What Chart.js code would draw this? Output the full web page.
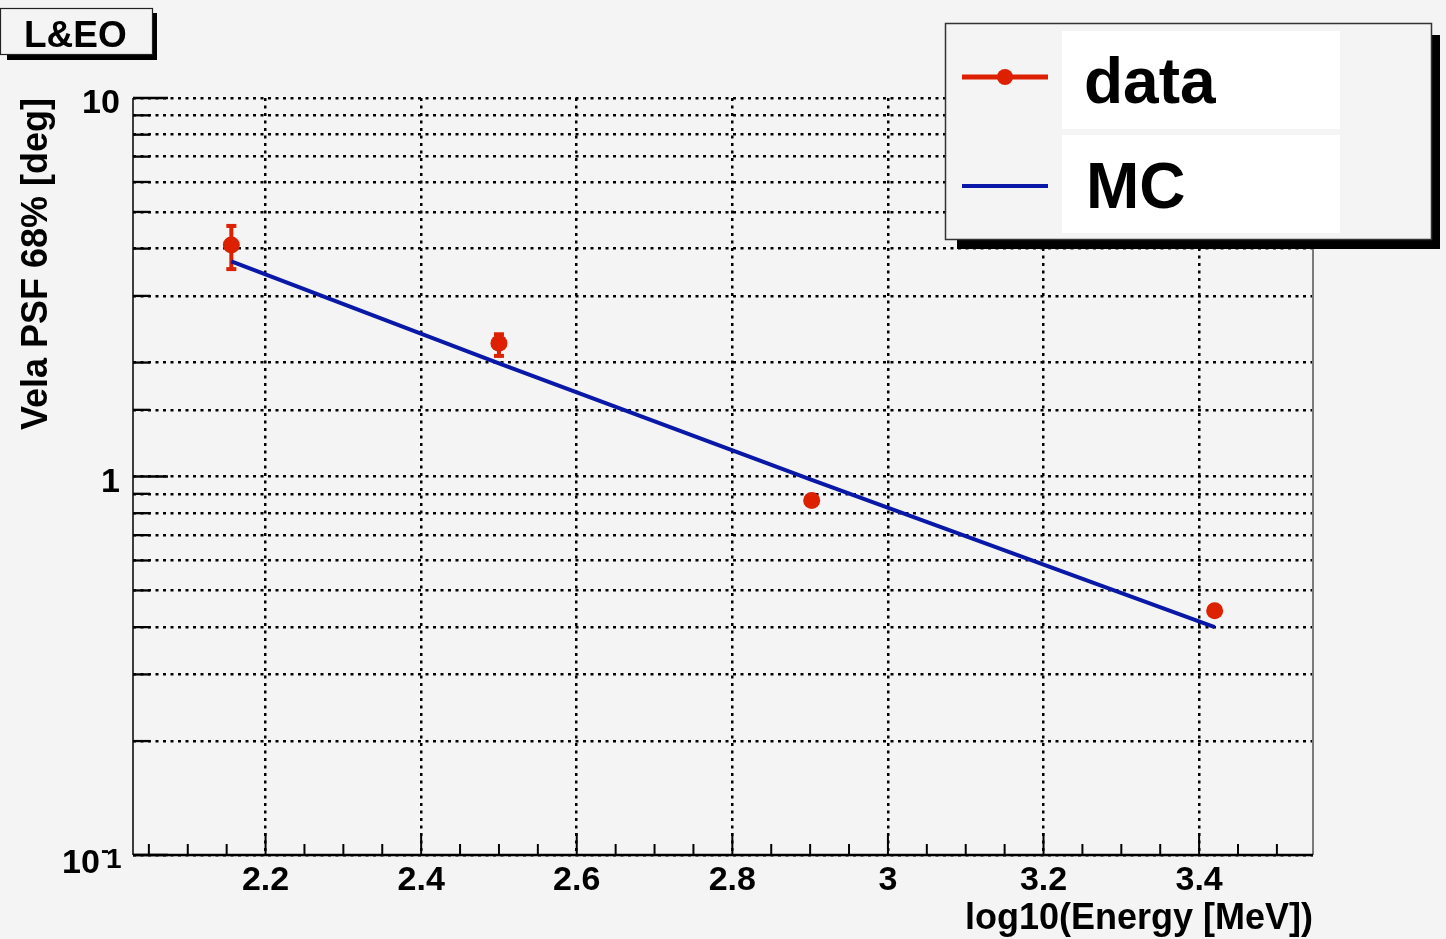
<!DOCTYPE html>
<html>
<head>
<meta charset="utf-8">
<title>Vela PSF 68%</title>
<script src="https://cdn.jsdelivr.net/npm/chart.js@4.4.1/dist/chart.umd.min.js"></script>
<style>
  html, body { margin: 0; padding: 0; background: #f4f4f4; }
  #chart { display: block; }
</style>
</head>
<body>
<canvas id="chart" width="1446" height="939"></canvas>
<script>
// =====================
// DATA
// =====================
const energies = [2.156, 2.5, 2.902, 3.42];      // log10(Energy [MeV])
const psfData = [4.09, 2.25, 0.864, 0.442];       // data, 68% containment [deg]
const psfErrLow = [3.51, 2.07, 0.85, 0.435];
const psfErrHigh = [4.62, 2.39, 0.875, 0.45];
const psfMC = [3.70, 1.99, 0.98, 0.40];           // MC prediction

const xTickValues = [2.2, 2.4, 2.6, 2.8, 3.0, 3.2, 3.4];
const xTickLabels = ["2.2", "2.4", "2.6", "2.8", "3", "3.2", "3.4"];
const yTickValues = [0.1, 1, 10];
const yTickBase = ["10", "1", "10"];
const yTickExp = ["1", "", ""];   // negative exponents, minus drawn raised

const legendLabels = ["data", "MC"];

// =====================
// STYLE
// =====================
const BG = "#f4f4f4";
const RED = "#dc2000";
const BLUE = "#0a18a8";
const FONT = '"Liberation Sans", Arial, Helvetica, sans-serif';

// =====================
// ROOT-like frame, ticks, labels, legend
// =====================
const rootFrame = {
  id: "rootFrame",
  beforeDatasetsDraw(chart) {
    // error bars on data points
    const ctx = chart.ctx;
    const xs = chart.scales.x, ys = chart.scales.y;
    ctx.save();
    ctx.strokeStyle = RED;
    ctx.fillStyle = RED;
    ctx.lineWidth = 4;
    energies.forEach((e, i) => {
      const px = xs.getPixelForValue(e);
      const yl = ys.getPixelForValue(psfErrLow[i]);
      const yh = ys.getPixelForValue(psfErrHigh[i]);
      ctx.beginPath();
      ctx.moveTo(px, yl);
      ctx.lineTo(px, yh);
      ctx.stroke();
      ctx.fillRect(px - 5, yh - 1, 10, 4);
      ctx.fillRect(px - 5, yl - 3, 10, 4);
    });
    ctx.restore();
  },
  afterDraw(chart) {
    const ctx = chart.ctx;
    const xs = chart.scales.x, ys = chart.scales.y;
    const { left, right, top, bottom } = chart.chartArea;
    ctx.save();

    // right frame edge
    ctx.strokeStyle = "#7a7a7a";
    ctx.lineWidth = 2;
    ctx.beginPath();
    ctx.moveTo(right, top);
    ctx.lineTo(right, bottom);
    ctx.stroke();

    // axes
    ctx.strokeStyle = "#000";
    ctx.lineWidth = 1.5;
    ctx.beginPath();
    ctx.moveTo(left, top);
    ctx.lineTo(left, bottom);
    ctx.stroke();
    ctx.lineWidth = 2.5;
    ctx.beginPath();
    ctx.moveTo(left, bottom);
    ctx.lineTo(right, bottom);
    ctx.stroke();

    // y ticks (inside)
    ctx.lineWidth = 2.3;
    ys.ticks.forEach(t => {
      const p = ys.getPixelForValue(t.value);
      const lg = Math.log10(t.value);
      const major = Math.abs(lg - Math.round(lg)) < 1e-6;
      ctx.beginPath();
      ctx.moveTo(left, p);
      ctx.lineTo(left + (major ? 35 : 17), p);
      ctx.stroke();
    });

    // x ticks (inside), minor every 0.05
    ctx.lineWidth = 2;
    for (let k = 41; k <= 70; k++) {
      const v = k * 0.05;
      const p = xs.getPixelForValue(v);
      if (p < left || p > right) continue;
      const major = k % 4 === 0;
      ctx.beginPath();
      ctx.moveTo(p, bottom);
      ctx.lineTo(p, bottom - (major ? 22 : 11));
      ctx.stroke();
    }

    // x tick labels
    ctx.fillStyle = "#000";
    ctx.font = "bold 34px " + FONT;
    ctx.textAlign = "center";
    ctx.textBaseline = "alphabetic";
    xTickValues.forEach((v, i) => {
      ctx.fillText(xTickLabels[i], xs.getPixelForValue(v), bottom + 35);
    });

    // y tick labels
    yTickValues.forEach((v, i) => {
      const p = ys.getPixelForValue(v);
      ctx.textAlign = "left";
      if (yTickExp[i]) {
        ctx.font = "bold 34px " + FONT;
        const m = ctx.measureText(yTickBase[i]);
        ctx.fillText(yTickBase[i], 99 - m.actualBoundingBoxRight, p + 18);
        ctx.font = "bold 24px " + FONT;
        ctx.fillText("-", 101, p + 3);
        ctx.font = "bold 28px " + FONT;
        ctx.fillText(yTickExp[i], 106, p + 13);
      } else {
        ctx.font = "bold 34px " + FONT;
        const m = ctx.measureText(yTickBase[i]);
        ctx.fillText(yTickBase[i], 119 - m.actualBoundingBoxRight, p + 15);
      }
    });

    // axis titles
    ctx.font = "bold 36px " + FONT;
    ctx.textAlign = "right";
    ctx.fillText("log10(Energy [MeV])", right, 929);
    ctx.save();
    ctx.translate(47, top);
    ctx.rotate(-Math.PI / 2);
    ctx.textAlign = "right";
    ctx.fillText("Vela PSF 68% [deg]", 0, 0);
    ctx.restore();

    // "L&EO" label box
    ctx.fillStyle = "#000";
    ctx.fillRect(7, 13, 150, 47);
    ctx.fillStyle = BG;
    ctx.fillRect(0, 8, 153, 47);
    ctx.strokeStyle = "#222";
    ctx.lineWidth = 1.2;
    ctx.strokeRect(0.5, 8.5, 152, 46);
    ctx.fillStyle = "#000";
    ctx.font = "bold 37px " + FONT;
    ctx.textAlign = "left";
    ctx.fillText("L&EO", 24, 47);

    // legend box
    ctx.fillStyle = "#000";
    ctx.fillRect(957, 35, 483, 214);
    ctx.fillStyle = BG;
    ctx.fillRect(945, 23, 487, 217);
    ctx.strokeStyle = "#333";
    ctx.lineWidth = 1.5;
    ctx.strokeRect(945.5, 23.5, 486, 216);
    ctx.fillStyle = "#fff";
    ctx.fillRect(1062, 31, 278, 98);
    ctx.fillRect(1062, 135, 278, 98);

    // legend symbols
    ctx.strokeStyle = RED;
    ctx.lineWidth = 5;
    ctx.beginPath();
    ctx.moveTo(962, 77);
    ctx.lineTo(1048, 77);
    ctx.stroke();
    ctx.fillStyle = RED;
    ctx.beginPath();
    ctx.arc(1005, 77, 8, 0, Math.PI * 2);
    ctx.fill();
    ctx.strokeStyle = BLUE;
    ctx.lineWidth = 4;
    ctx.beginPath();
    ctx.moveTo(962, 186);
    ctx.lineTo(1048, 186);
    ctx.stroke();

    // legend text
    ctx.fillStyle = "#000";
    ctx.font = "bold 64px " + FONT;
    ctx.textAlign = "left";
    ctx.fillText(legendLabels[0], 1084, 103);
    ctx.fillText(legendLabels[1], 1086, 208);

    ctx.restore();
  }
};

// =====================
// CHART
// =====================
const gridOpts = {
  color: "#000",
  lineWidth: 2.5,
  drawTicks: false
};

new Chart(document.getElementById("chart"), {
  type: "scatter",
  data: {
    datasets: [
      {
        label: "MC",
        data: energies.map((e, i) => ({ x: e, y: psfMC[i] })),
        showLine: true,
        borderColor: BLUE,
        borderWidth: 4,
        pointRadius: 0,
        tension: 0
      },
      {
        label: "data",
        data: energies.map((e, i) => ({ x: e, y: psfData[i] })),
        showLine: false,
        backgroundColor: RED,
        borderColor: RED,
        pointRadius: 8.5,
        pointBorderWidth: 0
      }
    ]
  },
  options: {
    responsive: false,
    animation: false,
    devicePixelRatio: 1,
    layout: { padding: { left: 133, top: 98, right: 133, bottom: 84 } },
    plugins: {
      legend: { display: false },
      tooltip: { enabled: false }
    },
    scales: {
      x: {
        type: "linear",
        min: 2.0296,
        max: 3.5464,
        afterBuildTicks: s => { s.ticks = xTickValues.map(v => ({ value: v })); },
        ticks: { display: false },
        grid: gridOpts,
        border: { display: false, dash: [3, 4.5] }
      },
      y: {
        type: "logarithmic",
        min: 0.1,
        max: 10,
        ticks: { display: false },
        grid: gridOpts,
        border: { display: false, dash: [3, 4.5] }
      }
    }
  },
  plugins: [rootFrame]
});
</script>
</body>
</html>
